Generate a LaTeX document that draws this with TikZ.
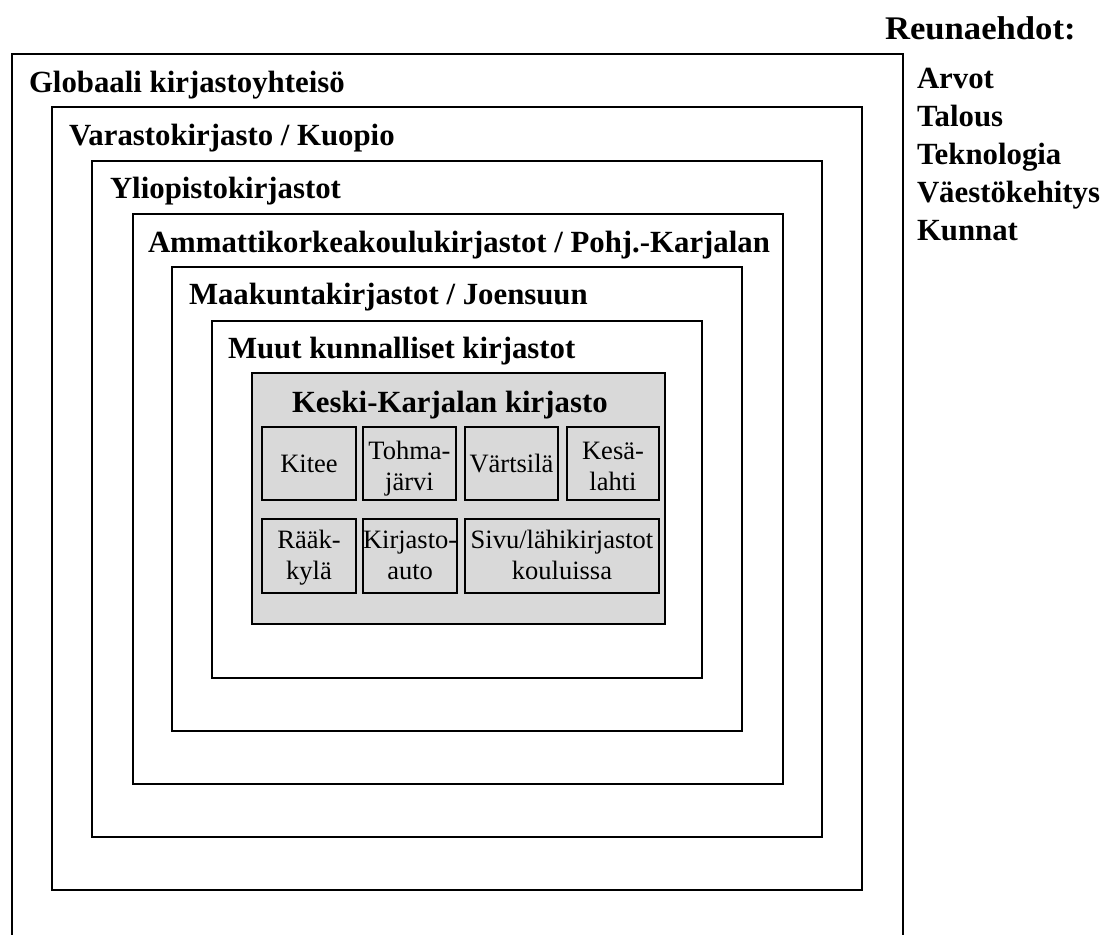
\documentclass[tikz,border=0pt]{standalone}
\usepackage{fontspec}
\setmainfont{Liberation Serif}
\definecolor{boxgray}{RGB}{217,217,217}
\newcommand\twolines[3][-4pt]{\raisebox{#1}[\height][\depth]{\begin{tabular}{@{}c@{}}#2\\#3\end{tabular}}}
\begin{document}
\begin{tikzpicture}[x=1pt,y=-1pt,
  frame/.style={draw, line width=1.5pt, inner sep=0pt, outer sep=0pt, anchor=north west},
  lbl/.style={anchor=base west, inner sep=0pt, outer sep=0pt, font=\fontsize{30.8}{36}\selectfont\bfseries},
  cell/.style={draw, line width=1.5pt, fill=boxgray, inner sep=0pt, outer sep=0pt, anchor=north west, align=center, font=\fontsize{26.5}{31}\selectfont},
  side/.style={anchor=base west, inner sep=0pt, outer sep=0pt, font=\fontsize{30.8}{36}\selectfont\bfseries}]
\useasboundingbox (0,0) rectangle (1104,935);
\clip (0,0) rectangle (1104,935);
% nested frames
\node[frame, minimum width=891pt, minimum height=950pt] (b1) at (12,54) {};
\node[frame, minimum width=810pt, minimum height=783pt] (b2) at (52,107) {};
\node[frame, minimum width=730pt, minimum height=676pt] (b3) at (92,161) {};
\node[frame, minimum width=650pt, minimum height=570pt] (b4) at (133,214) {};
\node[frame, minimum width=570pt, minimum height=464pt] (b5) at (172,267) {};
\node[frame, minimum width=490pt, minimum height=357pt] (b6) at (212,321) {};
\node[frame, fill=boxgray, minimum width=413pt, minimum height=251pt] (b7) at (252,373) {};
% labels
\node[lbl] (t1) at ([shift={(17,38)}]b1.north west) {Globaali kirjastoyhteisö};
\node[lbl] (t2) at ([shift={(17,38)}]b2.north west) {Varastokirjasto / Kuopio};
\node[lbl] (t3) at ([shift={(18,37)}]b3.north west) {Yliopistokirjastot};
\node[lbl] (t4) at ([shift={(15,38)}]b4.north west) {Ammattikorkeakoulukirjastot / Pohj.-Karjalan};
\node[lbl] (t5) at ([shift={(17,37)}]b5.north west) {Maakuntakirjastot / Joensuun};
\node[lbl] (t6) at ([shift={(16,37)}]b6.north west) {Muut kunnalliset kirjastot};
\node[lbl] (t7) at ([shift={(40,39)}]b7.north west) {Keski-Karjalan kirjasto};
% cells
\node[cell, minimum width=94pt, minimum height=73pt] (c1) at (262,427) {Kitee};
\node[cell, minimum width=93pt, minimum height=73pt] (c2) at (363,427) {\twolines[-5pt]{Tohma-}{järvi}};
\node[cell, minimum width=93pt, minimum height=73pt] (c3) at (465,427) {Värtsilä};
\node[cell, minimum width=92pt, minimum height=73pt] (c4) at (567,427) {\twolines[-5pt]{Kesä-}{lahti}};
\node[cell, minimum width=94pt, minimum height=74pt] (c5) at (262,519) {\twolines[-2pt]{Rääk-}{kylä}};
\node[cell, minimum width=93pt, minimum height=74pt] (c6) at (363,519) {\twolines[-2pt]{Kirjasto-}{auto}};
\node[cell, minimum width=194pt, minimum height=74pt] (c7) at (465,519) {\twolines[-2pt]{Sivu/lähikirjastot}{kouluissa}};
% side text
\node[side, font=\fontsize{33}{38}\selectfont\bfseries] (r0) at (885,39) {\scalebox{1.05}[1]{Reunaehdot:}};
\node[side] (r1) at (917,88) {Arvot};
\node[side] (r2) at (917,126) {Talous};
\node[side] (r3) at (917,164) {Teknologia};
\node[side] (r4) at (917,202) {Väestökehitys};
\node[side] (r5) at (917,240) {Kunnat};
\end{tikzpicture}
\end{document}
